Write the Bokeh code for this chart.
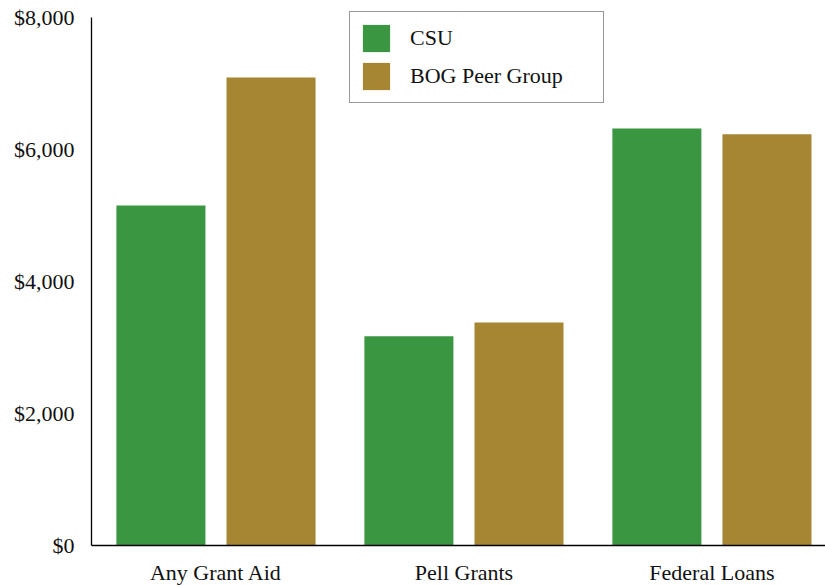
from bokeh.plotting import figure
from bokeh.models import ColumnDataSource, Range1d, Legend, LegendItem, NumeralTickFormatter, FixedTicker
from bokeh.embed import file_html
from bokeh.resources import INLINE

categories = ["Any Grant Aid", "Pell Grants", "Federal Loans"]
csu = [5150, 3170, 6320]
bog = [7090, 3380, 6230]
series_names = ["CSU", "BOG Peer Group"]
colors = ["#3A9640", "#A68632"]
y_ticks = [0, 2000, 4000, 6000, 8000]
y_max = 8000

FONT = "Liberation Serif"

idx = list(range(len(categories)))
src = ColumnDataSource(dict(
    x_csu=[i - 0.222 for i in idx],
    x_bog=[i + 0.222 for i in idx],
    csu=csu, bog=bog,
))

# frame extends 7px above the top of the axis so the legend box is not clipped
p = figure(frame_width=734, frame_height=535, output_backend="svg", toolbar_location=None,
           x_range=Range1d(-0.502, 2.458), y_range=Range1d(0, y_max * 535 / 528),
           min_border_left=91, min_border_right=0, min_border_top=10, min_border_bottom=38)

r1 = p.vbar(x="x_csu", top="csu", width=0.359, source=src, fill_color=colors[0], line_color=None)
r2 = p.vbar(x="x_bog", top="bog", width=0.359, source=src, fill_color=colors[1], line_color=None)

p.xgrid.visible = False
p.ygrid.visible = False
p.outline_line_color = None

p.xaxis.ticker = FixedTicker(ticks=idx)
p.xaxis.major_label_overrides = {i: c for i, c in zip(idx, categories)}
p.yaxis.ticker = FixedTicker(ticks=y_ticks)
p.yaxis.formatter = NumeralTickFormatter(format="$0,0")
p.yaxis.bounds = (0, y_max)

for ax in (p.xaxis, p.yaxis):
    ax.major_tick_line_color = None
    ax.minor_tick_line_color = None
    ax.major_tick_out = 0
    ax.major_tick_in = 0
    ax.minor_tick_out = 0
    ax.minor_tick_in = 0
    ax.axis_line_color = "black"
    ax.axis_line_width = 1.3
    ax.major_label_text_font = FONT
    ax.major_label_text_font_size = "22px"
    ax.major_label_text_color = "#111111"
p.xaxis.major_label_standoff = 14
p.yaxis.major_label_standoff = 17

legend = Legend(items=[LegendItem(label=series_names[0], renderers=[r1]),
                       LegendItem(label=series_names[1], renderers=[r2])],
                location=(258, 442))
legend.label_text_font = FONT
legend.label_text_font_size = "22px"
legend.label_text_color = "#111111"
legend.glyph_width = 34
legend.glyph_height = 34
legend.label_height = 34
legend.label_width = 184
legend.label_standoff = 17
legend.spacing = 4
legend.padding = 9
legend.margin = 0
legend.border_line_color = "#333333"
legend.border_line_width = 1
legend.background_fill_alpha = 1
p.add_layout(legend, "center")

open("out.html", "w").write(file_html(p, INLINE))
